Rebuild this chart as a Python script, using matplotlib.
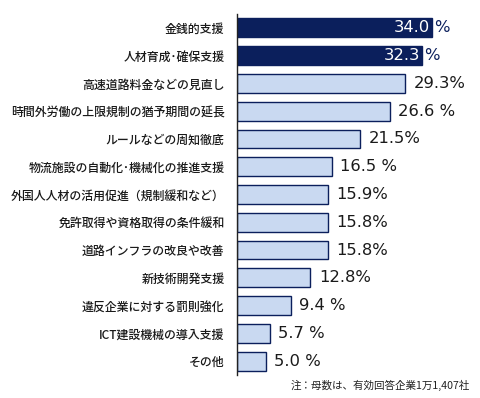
import matplotlib
matplotlib.use("Agg")
import matplotlib.pyplot as plt

plt.rcParams['font.family'] = ['Noto Sans CJK JP', 'DejaVu Sans']

categories = ["金銭的支援", "人材育成･確保支援", "高速道路料金などの見直し",
              "時間外労働の上限規制の猶予期間の延長", "ルールなどの周知徹底",
              "物流施設の自動化･機械化の推進支援", "外国人人材の活用促進（規制緩和など）",
              "免許取得や資格取得の条件緩和", "道路インフラの改良や改善", "新技術開発支援",
              "違反企業に対する罰則強化", "ICT建設機械の導入支援", "その他"]
values = [34.0, 32.3, 29.3, 26.6, 21.5, 16.5, 15.9, 15.8, 15.8, 12.8, 9.4, 5.7, 5.0]
value_labels = ["34.0", "32.3", "29.3%", "26.6 %", "21.5%", "16.5 %", "15.9%",
                "15.8%", "15.8%", "12.8%", "9.4 %", "5.7 %", "5.0 %"]
highlight = [True, True] + [False] * 11
note = "注：母数は、有効回答企業1万1,407社"

navy = "#0b1f5c"
light = "#c9d9f1"
numfont = ['DejaVu Sans']

fig = plt.figure(figsize=(4.8, 3.98), dpi=100)
ax = fig.add_axes([237/480, 23/398, 243/480, 361/398])

ys = list(range(len(categories)))
colors = [navy if h else light for h in highlight]
ax.barh(ys, values, height=0.68, color=colors, edgecolor=navy, linewidth=1.0)
ax.set_ylim(len(categories) - 0.5, -0.5)
ax.set_xlim(0, 243/5.74)

for s in ["top", "right", "bottom"]:
    ax.spines[s].set_visible(False)
ax.spines["left"].set_color("#222222")
ax.spines["left"].set_linewidth(1.0)
ax.set_xticks([])
ax.set_yticks(ys)
ax.set_yticklabels(categories, fontsize=8.6, color="#1a1a1a", fontweight=500)
ax.tick_params(axis="y", length=0, pad=9)

for y, v, lab, h in zip(ys, values, value_labels, highlight):
    if h:
        ax.text(v - 0.4, y, lab, ha="right", va="center", fontsize=11.8,
                color="white", family=numfont)
        ax.text(v + 0.3, y, "%", ha="left", va="center", fontsize=11.8,
                color=navy, family=numfont)
    else:
        ax.annotate(lab, (v, y), xytext=(6, 0), textcoords="offset points",
                    ha="left", va="center", fontsize=11.8, color="#1a1a1a",
                    family=numfont)

fig.text(470/480, 1 - 385/398, note, ha="right", va="center", fontsize=7.6,
         color="#222222")

fig.savefig("out.png", dpi=100)
